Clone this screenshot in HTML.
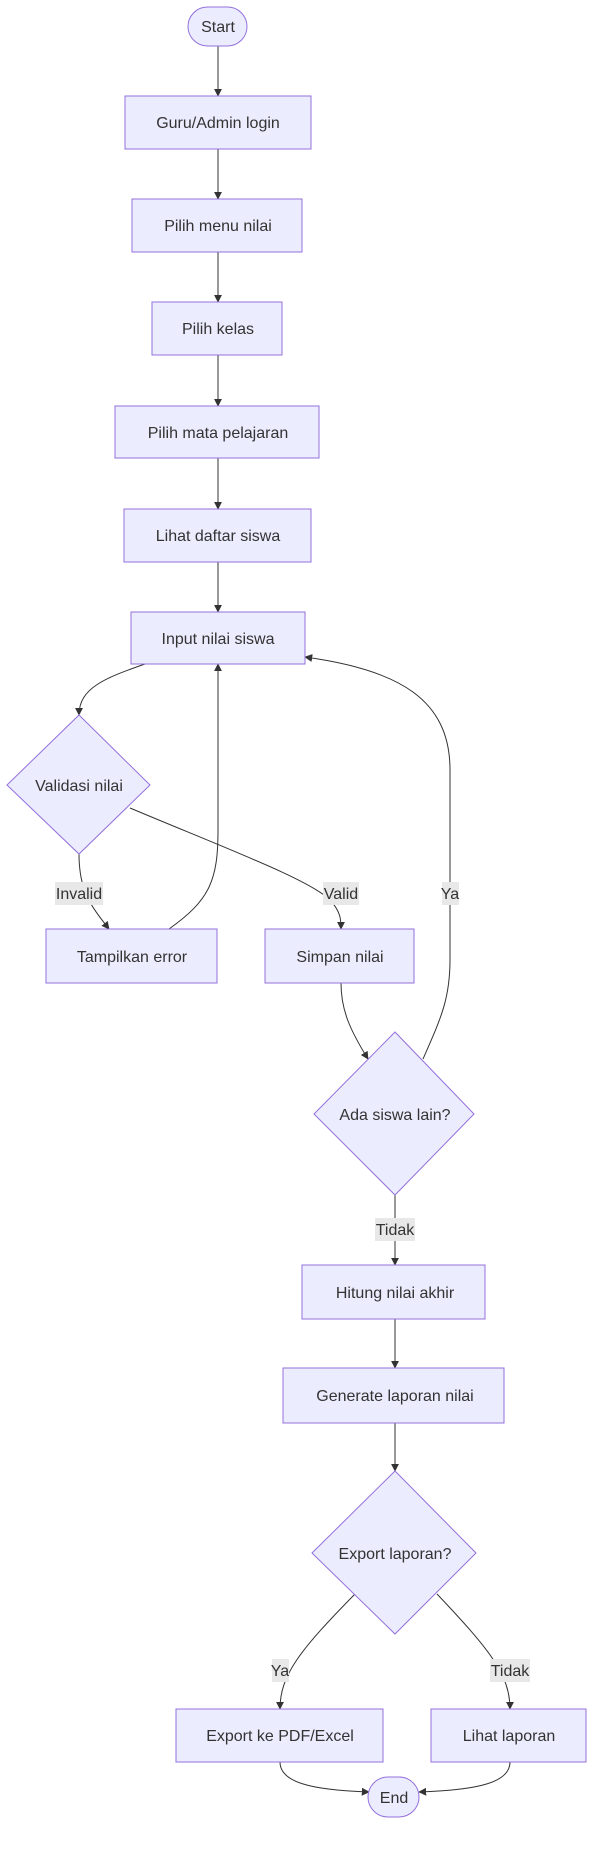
<!DOCTYPE html>
<html><head><meta charset="utf-8"><style>
html,body{margin:0;padding:0;background:#fff;}
svg{display:block;}
text{font-family:"Liberation Sans","DejaVu Sans",sans-serif;font-size:16px;fill:#333;}
.n{fill:#ECECFF;stroke:#9370DB;stroke-width:1;}
.e{fill:none;stroke:#333;stroke-width:1;}
.lb{fill:#e8e8e8;}
</style></head><body>
<svg width="599" height="1876" viewBox="0 0 599 1876" xmlns="http://www.w3.org/2000/svg">
<defs><marker id="a" viewBox="0 0 10 10" refX="9" refY="5" markerWidth="8" markerHeight="8" orient="auto"><path d="M0,0L10,5L0,10z" fill="#333"/></marker></defs>
<path class="e" d="M218,46V96" marker-end="url(#a)"/>
<path class="e" d="M218,149V199" marker-end="url(#a)"/>
<path class="e" d="M218,252V302" marker-end="url(#a)"/>
<path class="e" d="M218,355V406" marker-end="url(#a)"/>
<path class="e" d="M218,458V509" marker-end="url(#a)"/>
<path class="e" d="M218,562V612" marker-end="url(#a)"/>
<path class="e" d="M145,664C105,678 79,688 79,715" marker-end="url(#a)"/>
<path class="e" d="M79,854C79,890 90,905 109,929" marker-end="url(#a)"/>
<path class="e" d="M169,929C210,900 218,880 218,830V664" marker-end="url(#a)"/>
<path class="e" d="M130,808C230,850 310,880 330,900C341,912 341,920 341,929" marker-end="url(#a)"/>
<path class="e" d="M341,983C341,1010 350,1030 368,1059" marker-end="url(#a)"/>
<path class="e" d="M423,1059C440,1020 450,1000 450,960V770C450,700 400,670 305,657" marker-end="url(#a)"/>
<path class="e" d="M395,1195V1265" marker-end="url(#a)"/>
<path class="e" d="M395,1319V1368" marker-end="url(#a)"/>
<path class="e" d="M395,1423V1471" marker-end="url(#a)"/>
<path class="e" d="M355,1594C300,1650 280,1675 280,1709" marker-end="url(#a)"/>
<path class="e" d="M437,1594C490,1650 510,1675 510,1709" marker-end="url(#a)"/>
<path class="e" d="M280,1762C280,1782 310,1790 369,1792" marker-end="url(#a)"/>
<path class="e" d="M510,1762C510,1782 480,1790 419,1792" marker-end="url(#a)"/>
<rect class="n" x="188" y="7" width="59" height="39" rx="19.5"/><text x="218" y="32" text-anchor="middle">Start</text>
<rect class="n" x="125" y="96" width="186" height="53"/><text x="218" y="128" text-anchor="middle">Guru/Admin login</text>
<rect class="n" x="132" y="199" width="170" height="53"/><text x="218" y="231" text-anchor="middle">Pilih menu nilai</text>
<rect class="n" x="152" y="302" width="130" height="53"/><text x="218" y="334" text-anchor="middle">Pilih kelas</text>
<rect class="n" x="115" y="406" width="204" height="52"/><text x="218" y="438" text-anchor="middle">Pilih mata pelajaran</text>
<rect class="n" x="124" y="509" width="187" height="53"/><text x="218" y="541" text-anchor="middle">Lihat daftar siswa</text>
<rect class="n" x="131" y="612" width="174" height="52"/><text x="218" y="644" text-anchor="middle">Input nilai siswa</text>
<polygon class="n" points="79,715 150,785 79,854 7,785"/><text x="79" y="791" text-anchor="middle">Validasi nilai</text>
<rect class="n" x="46" y="929" width="171" height="54"/><text x="132" y="962" text-anchor="middle">Tampilkan error</text>
<rect class="n" x="265" y="929" width="149" height="54"/><text x="340" y="962" text-anchor="middle">Simpan nilai</text>
<polygon class="n" points="395,1032 474,1114 395,1195 314,1114"/><text x="395" y="1120" text-anchor="middle">Ada siswa lain?</text>
<rect class="n" x="302" y="1265" width="183" height="54"/><text x="395" y="1298" text-anchor="middle">Hitung nilai akhir</text>
<rect class="n" x="283" y="1368" width="221" height="55"/><text x="395" y="1401" text-anchor="middle">Generate laporan nilai</text>
<polygon class="n" points="395,1471 476,1553 395,1634 312,1553"/><text x="395" y="1559" text-anchor="middle">Export laporan?</text>
<rect class="n" x="176" y="1709" width="207" height="53"/><text x="280" y="1741" text-anchor="middle">Export ke PDF/Excel</text>
<rect class="n" x="431" y="1709" width="155" height="53"/><text x="509" y="1741" text-anchor="middle">Lihat laporan</text>
<rect class="n" x="368" y="1777" width="51" height="40" rx="20"/><text x="394" y="1803" text-anchor="middle">End</text>
<rect class="lb" x="55" y="882" width="48" height="23"/><text x="79" y="899" text-anchor="middle">Invalid</text>
<rect class="lb" x="323" y="882" width="36" height="23"/><text x="341" y="899" text-anchor="middle">Valid</text>
<rect class="lb" x="442" y="882" width="17" height="23"/><text x="450" y="899" text-anchor="middle">Ya</text>
<rect class="lb" x="375" y="1218" width="40" height="23"/><text x="395" y="1235" text-anchor="middle">Tidak</text>
<rect class="lb" x="272" y="1659" width="17" height="23"/><text x="280" y="1676" text-anchor="middle">Ya</text>
<rect class="lb" x="490" y="1659" width="40" height="23"/><text x="510" y="1676" text-anchor="middle">Tidak</text>
</svg>
</body></html>
